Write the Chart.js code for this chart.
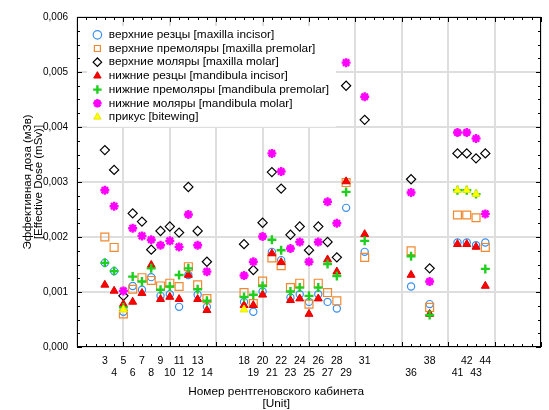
<!DOCTYPE html>
<html lang="ru">
<head>
    <meta charset="UTF-8">
    <title>Эффективная доза по кабинетам</title>
    <script src="https://cdn.jsdelivr.net/npm/chart.js"></script>
    <style>
        html, body { margin: 0; padding: 0; background: #fff; }
        #doseChart { display: block; }
    </style>
</head>
<body>
    <canvas id="doseChart" width="549" height="410"></canvas>
    <script>
        // unit numbers (x axis)
        const units = [3, 4, 5, 6, 7, 8, 9, 10, 11, 12, 13, 14,
                       18, 19, 20, 21, 22, 23, 24, 25, 26, 27, 28, 29,
                       31, 36, 38, 41, 42, 43, 44];

        // effective dose, mSv, one value per unit
        const maxillaIncisor  = [0.00153, 0.00138, 0.00064, 0.00111, 0.00104, 0.00127, 0.00093, 0.00096, 0.00073, 0.00131, 0.00095, 0.00073,
                                 0.00082, 0.00064, 0.00101, 0.00173, 0.00158, 0.00090, 0.00096, 0.00082, 0.00096, 0.00082, 0.00070, 0.00253,
                                 0.00173, 0.00110, 0.00078, 0.00190, 0.00190, 0.00185, 0.00190];
        const maxillaPremolar = [0.00200, 0.00181, 0.00060, 0.00105, 0.00126, 0.00121, 0.00111, 0.00116, 0.00110, 0.00146, 0.00113, 0.00088,
                                 0.00099, 0.00079, 0.00120, 0.00162, 0.00148, 0.00108, 0.00116, 0.00078, 0.00116, 0.00099, 0.00084, 0.00299,
                                 0.00163, 0.00175, 0.00072, 0.00240, 0.00240, 0.00235, 0.00181];
        const maxillaMolar    = [0.00358, 0.00322, 0.00093, 0.00243, 0.00228, 0.00177, 0.00211, 0.00219, 0.00208, 0.00291, 0.00211, 0.00155,
                                 0.00187, 0.00140, 0.00226, 0.00318, 0.00288, 0.00204, 0.00219, 0.00176, 0.00219, 0.00191, 0.00163, 0.00475,
                                 0.00413, 0.00305, 0.00143, 0.00352, 0.00352, 0.00343, 0.00352];
        const mandIncisor     = [0.00113, 0.00102, 0.00078, 0.00082, 0.00098, 0.00149, 0.00087, 0.00091, 0.00087, 0.00131, 0.00087, 0.00067,
                                 0.00076, 0.00076, 0.00095, 0.00170, 0.00154, 0.00085, 0.00088, 0.00060, 0.00088, 0.00159, 0.00137, 0.00301,
                                 0.00205, 0.00131, 0.00060, 0.00187, 0.00187, 0.00182, 0.00111];
        const mandPremolar    = [0.00153, 0.00138, 0.00072, 0.00128, 0.00119, 0.00143, 0.00104, 0.00110, 0.00131, 0.00143, 0.00105, 0.00084,
                                 0.00091, 0.00095, 0.00111, 0.00195, 0.00176, 0.00101, 0.00108, 0.00093, 0.00108, 0.00151, 0.00129, 0.00282,
                                 0.00193, 0.00165, 0.00058, 0.00285, 0.00285, 0.00278, 0.00142];
        const mandMolar       = [0.00285, 0.00256, 0.00102, 0.00216, 0.00202, 0.00195, 0.00185, 0.00193, 0.00182, 0.00241, 0.00185, 0.00137,
                                 0.00130, 0.00155, 0.00201, 0.00352, 0.00319, 0.00179, 0.00191, 0.00155, 0.00191, 0.00264, 0.00225, 0.00517,
                                 0.00455, 0.00281, 0.00119, 0.00390, 0.00390, 0.00379, 0.00242];
        const bitewing        = [null, null, 0.00068, null, null, null, null, null, null, null, null, null,
                                 0.00068, null, null, null, null, null, null, null, null, null, null, null,
                                 null, null, null, 0.00285, 0.00285, 0.00278, null];

        // tick labels are split over two rows
        const labelsTopRow    = [3, 5, 7, 9, 11, 13, 18, 20, 22, 24, 26, 28, 31, 38, 42, 44];
        const labelsBottomRow = [4, 6, 8, 10, 12, 14, 19, 21, 23, 25, 27, 29, 36, 41, 43];

        const yTicks = [0, 0.001, 0.002, 0.003, 0.004, 0.005, 0.006];

        const toPoints = arr => units.map((u, i) => ({ x: u, y: arr[i] })).filter(p => p.y !== null);

        Chart.defaults.font.family = '"Liberation Sans", Arial, sans-serif';
        Chart.defaults.color = '#000';

        // place the in-plot legend and give it a white box
        const legendBox = {
            id: 'legendBox',
            afterLayout(chart) {
                const lg = chart.legend;
                const a = chart.chartArea;
                const w = lg.width;
                lg.left = a.left + 13; lg.right = lg.left + w;
                lg.top = a.top + 10; lg.bottom = a.bottom;
                if (!lg._withBg) {
                    const origDraw = lg.draw;
                    lg.draw = function (area) {
                        const ctx = this.ctx;
                        const pad = this.options.labels.padding;
                        const fs = this.options.labels.font.size;
                        let mw = 0;
                        this.legendHitBoxes.forEach(h => { mw = Math.max(mw, h.width); });
                        ctx.save();
                        ctx.fillStyle = '#fff';
                        ctx.fillRect(this.left - 3, this.top - 1, mw + 2 * pad + 8, this.legendItems.length * (fs + pad) + pad + 3);
                        ctx.restore();
                        origDraw.call(this, area);
                    };
                    lg._withBg = true;
                }
            }
        };

        // black frame with small inward ticks
        const frameTicks = {
            id: 'frameTicks',
            afterDraw(chart) {
                const { ctx, chartArea: a, scales: { x, y } } = chart;
                ctx.save();
                ctx.strokeStyle = '#000';
                ctx.lineWidth = 1;
                ctx.beginPath();
                for (let u = x.min; u <= x.max; u++) {
                    const px = Math.round(x.getPixelForValue(u)) + 0.5;
                    const len = u % 5 === 0 ? 5 : 3;
                    ctx.moveTo(px, a.bottom); ctx.lineTo(px, a.bottom - len);
                    ctx.moveTo(px, a.top); ctx.lineTo(px, a.top + len);
                }
                for (let k = 0; k <= 24; k++) {
                    const py = Math.round(y.getPixelForValue(k * 0.00025)) + 0.5;
                    const len = k % 4 === 0 ? 5 : 3;
                    ctx.moveTo(a.left, py); ctx.lineTo(a.left + len, py);
                    ctx.moveTo(a.right, py); ctx.lineTo(a.right - len, py);
                }
                ctx.stroke();
                ctx.strokeRect(Math.round(a.left) + 0.5, Math.round(a.top) + 0.5, Math.round(a.width) - 1, Math.round(a.height) - 1);
                ctx.restore();
            }
        };

        const series = [
            { label: 'верхние резцы [maxilla incisor]',         data: maxillaIncisor,  style: 'circle',   r: 3.6, fill: 'rgba(0,0,0,0)', line: '#3a8ef0', bw: 1.2 },
            { label: 'верхние премоляры [maxilla premolar]',    data: maxillaPremolar, style: 'rect',     r: 5.6, fill: 'rgba(0,0,0,0)', line: '#f08a30', bw: 1.2 },
            { label: 'верхние моляры [maxilla molar]',          data: maxillaMolar,    style: 'rectRot',  r: 4.6, fill: 'rgba(0,0,0,0)', line: '#000000', bw: 1.2 },
            { label: 'нижние резцы [mandibula incisor]',        data: mandIncisor,     style: 'triangle', r: 4.6, fill: '#ff0000',       line: '#e00000', bw: 1 },
            { label: 'нижние премоляры [mandibula premolar]',   data: mandPremolar,    style: 'cross',    r: 4.5, fill: '#1ecf1e',       line: '#1ecf1e', bw: 2.4 },
            { label: 'нижние моляры [mandibula molar]',         data: mandMolar,       style: 'star',     r: 4.5, fill: '#ff00ff',       line: '#ff00ff', bw: 2.4 },
            { label: 'прикус [bitewing]',                       data: bitewing,        style: 'triangle', r: 4.6, fill: '#ffff00',       line: '#e8e800', bw: 1 }
        ];

        new Chart(document.getElementById('doseChart'), {
            type: 'scatter',
            data: {
                datasets: series.map((s, i) => ({
                    label: s.label,
                    data: toPoints(s.data),
                    pointStyle: s.style,
                    pointRadius: s.r,
                    pointHoverRadius: s.r,
                    backgroundColor: s.fill,
                    borderColor: s.line,
                    borderWidth: s.bw,
                    pointBorderWidth: s.bw,
                    order: series.length - i
                }))
            },
            options: {
                responsive: false,
                animation: false,
                layout: { padding: { top: 17, right: 1, left: 0, bottom: 0 } },
                plugins: {
                    tooltip: { enabled: false },
                    legend: {
                        position: 'chartArea',
                        align: 'start',
                        labels: {
                            usePointStyle: true,
                            boxWidth: 11,
                            boxHeight: 6,
                            padding: 1.9,
                            font: { size: 11.8 },
                            color: '#000',
                            sort: (a, b) => a.datasetIndex - b.datasetIndex
                        }
                    }
                },
                scales: {
                    x: {
                        type: 'linear',
                        min: 0,
                        max: 50,
                        afterFit: scale => { scale.height = 63; },
                        border: { display: false },
                        grid: {
                            z: -1,
                            drawTicks: false,
                            color: c => (c.tick && c.tick.value % 5 === 0) ? '#dedede' : 'rgba(0,0,0,0)',
                            lineWidth: c => (c.tick && c.tick.value % 5 === 0) ? 2 : 0
                        },
                        ticks: {
                            stepSize: 1,
                            autoSkip: false,
                            maxRotation: 0,
                            minRotation: 0,
                            padding: 8,
                            font: { size: 10.5, lineHeight: 1.15 },
                            callback: v => {
                                if (labelsTopRow.includes(v)) return [String(v), ''];
                                if (labelsBottomRow.includes(v)) return ['', String(v)];
                                return '';
                            }
                        },
                        title: {
                            display: true,
                            text: ['Номер рентгеновского кабинета' + '\u00a0'.repeat(20), '[Unit]' + '\u00a0'.repeat(20)],
                            font: { size: 11.8, lineHeight: 1.02 },
                            padding: { top: 0, bottom: 0 }
                        }
                    },
                    y: {
                        min: yTicks[0],
                        max: yTicks[yTicks.length - 1],
                        afterFit: scale => { scale.width = 77; },
                        border: { display: false },
                        grid: { z: -1, drawTicks: false, color: '#dedede', lineWidth: 2 },
                        ticks: {
                            stepSize: 0.001,
                            padding: 9,
                            font: { size: 10 },
                            callback: v => v.toFixed(3).replace('.', ',')
                        },
                        title: {
                            display: true,
                            text: ['Эффективная доза (мЗв)', '[Effective Dose (mSv)]'],
                            font: { size: 11.5, lineHeight: 0.96 },
                            padding: { top: 22.7, bottom: 0 }
                        }
                    }
                }
            },
            plugins: [legendBox, frameTicks]
        });
    </script>
</body>
</html>
